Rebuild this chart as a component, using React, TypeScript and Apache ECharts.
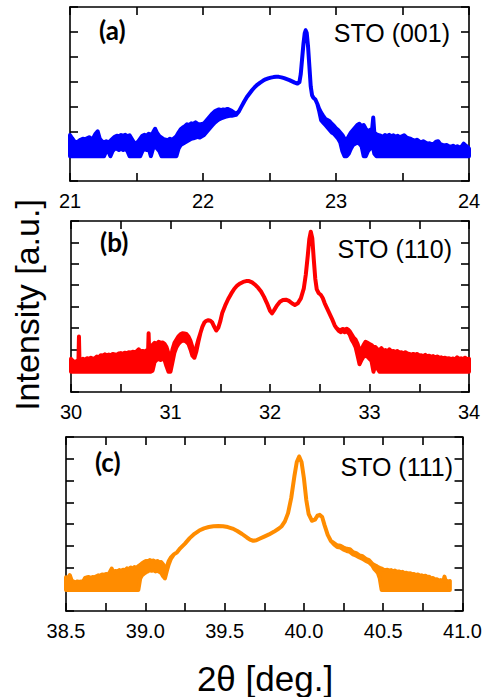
import React, { useEffect, useRef } from "react";
import * as echarts from "echarts";

// ---- data: [2θ (deg), upper envelope, lower envelope] of the measured scans ----
// (upper == lower where the curve is a single smooth trace; they differ in the noisy band)
const scanA: [number, number, number][] = [
[21.000,1.85,1.0],[21.016,1.72,1.0],[21.032,1.6,1.0],[21.048,1.56,1.0],[21.064,1.6,1.0],[21.080,1.66,1.0],[21.096,1.7,1.0],[21.112,1.68,1.0],[21.128,1.72,1.0],[21.144,1.76,1.0],[21.160,1.7,1.0],[21.176,1.74,1.0],[21.192,1.9,1.0],[21.208,2.0,1.0],[21.224,1.7,1.0],[21.240,1.6,1.0],[21.256,1.56,1.0],[21.272,1.6,1.2],[21.288,1.55,1.2],[21.304,1.62,1.0],[21.320,1.7,1.2],[21.336,1.78,1.3],[21.352,1.82,1.3],[21.368,1.8,1.25],[21.384,1.85,1.3],[21.400,1.82,1.25],[21.416,1.86,1.3],[21.432,1.8,1.2],[21.448,1.84,1.0],[21.464,1.7,1.0],[21.480,1.56,1.0],[21.496,1.52,1.0],[21.512,1.58,1.0],[21.528,1.7,1.0],[21.544,1.82,1.2],[21.560,1.86,1.3],[21.576,1.82,1.25],[21.592,1.9,1.3],[21.608,1.86,1.0],[21.624,1.95,1.3],[21.640,2.1,1.4],[21.656,1.92,1.3],[21.672,1.8,1.2],[21.688,1.74,1.0],[21.704,1.68,1.0],[21.720,1.66,1.0],[21.736,1.64,1.0],[21.752,1.7,1.0],[21.768,1.66,1.0],[21.784,1.72,1.0],[21.800,1.8,1.0],[21.816,1.95,1.3],[21.832,2.08,1.45],[21.848,2.15,1.5],[21.864,2.2,1.55],[21.880,2.28,1.6],[21.896,2.25,1.65],[21.912,2.32,1.7],[21.928,2.3,1.72],[21.944,2.36,1.75],[21.960,2.3,1.78],[21.976,2.28,1.75],[21.992,2.3,1.8],[22.008,2.32,1.85],[22.024,2.42,1.95],[22.040,2.52,2.05],[22.056,2.62,2.15],[22.072,2.72,2.25],[22.088,2.8,2.35],[22.104,2.84,2.42],[22.120,2.88,2.48],[22.136,2.85,2.52],[22.152,2.88,2.55],[22.168,2.86,2.58],[22.184,2.9,2.6],[22.200,2.86,2.62],[22.216,2.82,2.62],[22.232,2.76,2.64],[22.248,2.7,2.66],
[22.27,2.8,2.8],[22.29,3.0,3.0],[22.31,3.2,3.2],[22.33,3.38,3.38],[22.35,3.52,3.52],[22.37,3.66,3.66],[22.39,3.78,3.78],[22.41,3.88,3.88],[22.43,3.96,3.96],[22.45,4.03,4.03],[22.47,4.09,4.09],[22.49,4.13,4.13],[22.51,4.16,4.16],[22.53,4.18,4.18],[22.55,4.19,4.19],[22.57,4.19,4.19],[22.59,4.17,4.17],[22.61,4.14,4.14],[22.63,4.1,4.1],[22.65,4.06,4.06],[22.67,4.01,4.01],[22.69,3.96,3.96],[22.71,3.92,3.92],[22.725,3.98,3.98],[22.735,4.3,4.3],[22.745,4.9,4.9],[22.755,5.5,5.5],[22.765,5.95,5.95],[22.772,6.06,6.06],[22.78,5.95,5.95],[22.79,5.4,5.4],[22.8,4.6,4.6],[22.81,3.8,3.8],[22.82,3.45,3.45],[22.83,3.35,3.35],[22.845,3.28,3.28],[22.86,3.1,3.1],[22.872,2.92,2.85],
[22.888,2.75,2.45],[22.904,2.62,2.35],[22.920,2.5,2.25],[22.936,2.45,2.15],[22.952,2.4,2.05],[22.968,2.3,1.95],[22.984,2.22,1.9],[23.000,2.12,1.8],[23.016,2.05,1.7],[23.032,1.95,1.55],[23.048,1.85,1.2],[23.064,1.7,1.0],[23.080,1.65,1.0],[23.096,1.8,1.1],[23.112,1.95,1.3],[23.128,2.05,1.45],[23.144,2.15,1.5],[23.160,2.25,1.55],[23.176,2.3,1.5],[23.192,2.2,1.4],[23.208,2.25,1.0],[23.224,2.1,1.0],[23.240,2.0,1.2],[23.256,2.05,1.3],[23.272,2.1,1.35],[23.280,2.55,1.3],[23.288,1.95,1.1],[23.304,1.88,1.0],[23.320,1.85,1.0],[23.336,1.82,1.0],[23.352,1.78,1.0],[23.368,1.85,1.0],[23.384,1.8,1.0],[23.400,1.86,1.0],[23.416,1.8,1.0],[23.432,1.84,1.0],[23.448,1.78,1.0],[23.464,1.82,1.0],[23.480,1.74,1.0],[23.496,1.8,1.0],[23.512,1.84,1.0],[23.528,1.76,1.0],[23.544,1.72,1.0],[23.560,1.7,1.0],[23.576,1.65,1.0],[23.592,1.62,1.0],[23.608,1.66,1.0],[23.624,1.6,1.0],[23.640,1.56,1.0],[23.656,1.6,1.0],[23.672,1.55,1.0],[23.688,1.5,1.0],[23.704,1.52,1.0],[23.720,1.48,1.0],[23.736,1.5,1.0],[23.752,1.58,1.0],[23.768,1.6,1.0],[23.784,1.48,1.0],[23.800,1.45,1.0],[23.816,1.42,1.0],[23.832,1.45,1.0],[23.848,1.4,1.0],[23.864,1.38,1.0],[23.880,1.42,1.0],[23.896,1.36,1.0],[23.912,1.4,1.0],[23.928,1.35,1.0],[23.944,1.38,1.0],[23.960,1.5,1.0],[23.976,1.42,1.0],[23.992,1.36,1.0],[24.000,1.3,1.0]
];

const scanB: [number, number, number][] = [
[30.00,1.55,0.95],[30.02,1.45,0.95],[30.04,1.4,0.95],[30.06,1.45,0.95],[30.075,1.5,0.95],[30.08,2.6,0.95],[30.085,1.5,0.95],[30.10,1.5,0.95],[30.12,1.55,0.95],[30.14,1.5,0.95],[30.16,1.58,0.95],[30.18,1.55,0.95],[30.20,1.6,0.95],[30.22,1.55,0.95],[30.24,1.58,0.95],[30.26,1.66,0.95],[30.28,1.62,0.95],[30.30,1.72,0.95],[30.32,1.7,0.95],[30.34,1.76,0.95],[30.36,1.72,0.95],[30.38,1.75,0.95],[30.40,1.72,0.95],[30.42,1.78,0.95],[30.44,1.76,0.95],[30.46,1.74,0.95],[30.48,1.8,0.95],[30.50,1.82,0.95],[30.52,1.78,0.95],[30.54,1.84,0.95],[30.56,1.82,0.95],[30.58,1.86,0.95],[30.60,1.84,0.95],[30.62,1.88,0.95],[30.64,1.86,0.95],[30.66,1.9,0.95],[30.68,2.0,0.95],[30.70,1.88,0.95],[30.72,1.92,0.95],[30.74,1.88,0.95],[30.76,1.95,0.95],[30.775,1.95,0.95],[30.78,2.75,0.95],[30.785,2.0,0.95],[30.80,2.1,0.95],[30.82,2.2,1.0],[30.84,2.3,1.4],[30.86,2.25,1.5],[30.88,2.35,1.55],[30.90,2.3,1.5],[30.92,2.32,1.55],[30.94,2.25,1.5],[30.96,2.1,1.2],[30.98,1.8,0.95],[31.00,1.5,0.95],[31.02,2.0,1.4],[31.04,2.3,1.85],[31.06,2.45,2.1],[31.08,2.6,2.25],[31.10,2.7,2.35],[31.12,2.75,2.4],[31.14,2.74,2.4],[31.16,2.72,2.35],[31.18,2.6,2.25],[31.20,2.4,2.0],[31.22,2.1,1.7],[31.24,1.9,1.6],[31.26,2.1,1.9],[31.28,2.45,2.35],
[31.3,2.75,2.75],[31.32,3.05,3.05],[31.34,3.25,3.25],[31.36,3.33,3.33],[31.38,3.36,3.36],[31.4,3.34,3.34],[31.42,3.25,3.25],[31.44,3.05,3.05],[31.46,2.88,2.88],[31.48,3.0,3.0],[31.5,3.3,3.3],[31.52,3.7,3.7],[31.55,4.05,4.05],[31.58,4.35,4.35],[31.61,4.6,4.6],[31.64,4.82,4.82],[31.67,4.98,4.98],[31.7,5.08,5.08],[31.73,5.15,5.15],[31.76,5.19,5.19],[31.79,5.19,5.19],[31.82,5.13,5.13],[31.85,5.02,5.02],[31.88,4.88,4.88],[31.91,4.7,4.7],[31.94,4.45,4.45],[31.97,4.15,4.15],[32.0,3.8,3.8],[32.02,3.68,3.68],[32.04,3.82,3.82],[32.07,4.05,4.05],[32.1,4.22,4.22],[32.13,4.3,4.3],[32.16,4.32,4.32],[32.19,4.26,4.26],[32.22,4.15,4.15],[32.25,4.07,4.07],[32.28,4.15,4.15],[32.31,4.38,4.38],[32.34,4.85,4.85],[32.36,5.5,5.5],[32.38,6.4,6.4],[32.395,7.15,7.15],[32.41,7.5,7.5],[32.425,7.2,7.2],[32.44,6.2,6.2],[32.455,5.3,5.3],[32.47,4.8,4.8],[32.49,4.62,4.62],[32.51,4.55,4.55],[32.53,4.4,4.4],[32.55,4.15,4.15],[32.57,3.95,3.95],[32.59,3.75,3.75],[32.61,3.55,3.55],[32.63,3.35,3.35],[32.65,3.12,3.12],[32.67,2.98,2.98],[32.69,2.92,2.86],[32.71,2.9,2.8],[32.73,2.95,2.85],[32.75,2.92,2.8],[32.77,2.96,2.85],[32.79,2.9,2.75],
[32.80,2.85,2.7],[32.82,2.7,2.45],[32.84,2.55,2.3],[32.86,2.45,2.1],[32.88,2.25,1.7],[32.90,1.95,1.3],[32.92,2.0,1.5],[32.94,2.2,1.65],[32.96,2.35,1.7],[32.98,2.3,1.65],[33.00,2.25,1.55],[33.02,2.2,1.45],[33.04,2.1,0.95],[33.06,2.1,1.3],[33.08,2.0,1.1],[33.10,1.95,0.95],[33.12,2.05,0.95],[33.14,1.92,0.95],[33.16,1.96,0.95],[33.18,1.88,0.95],[33.20,2.0,0.95],[33.22,1.9,0.95],[33.24,1.92,0.95],[33.26,1.86,0.95],[33.28,1.92,0.95],[33.30,1.84,0.95],[33.32,1.86,0.95],[33.34,1.8,0.95],[33.36,1.86,0.95],[33.38,1.8,0.95],[33.40,1.78,0.95],[33.42,1.74,0.95],[33.44,1.78,0.95],[33.46,1.74,0.95],[33.48,1.78,0.95],[33.50,1.7,0.95],[33.52,1.72,0.95],[33.54,1.68,0.95],[33.56,1.74,0.95],[33.58,1.67,0.95],[33.60,1.7,0.95],[33.62,1.64,0.95],[33.64,1.68,0.95],[33.66,1.62,0.95],[33.68,1.66,0.95],[33.70,1.6,0.95],[33.72,1.62,0.95],[33.74,1.58,0.95],[33.76,1.6,0.95],[33.78,1.56,0.95],[33.80,1.58,0.95],[33.82,1.54,0.95],[33.84,1.57,0.95],[33.86,1.52,0.95],[33.88,1.62,0.95],[33.90,1.54,0.95],[33.92,1.58,0.95],[33.94,1.54,0.95],[33.96,1.6,0.95],[33.98,1.54,0.95],[34.00,1.56,0.95]
];

const scanC: [number, number, number][] = [
[38.500,1.55,0.97],[38.512,1.5,0.97],[38.524,1.65,0.97],[38.536,1.4,0.97],[38.548,1.35,0.97],[38.560,1.32,0.97],[38.572,1.36,0.97],[38.584,1.34,0.97],[38.596,1.36,0.97],[38.608,1.35,0.97],[38.620,1.52,0.97],[38.632,1.55,0.97],[38.644,1.56,0.97],[38.656,1.52,0.97],[38.668,1.56,0.97],[38.680,1.55,0.97],[38.692,1.6,0.97],[38.704,1.64,0.97],[38.716,1.62,0.97],[38.728,1.68,0.97],[38.740,1.66,0.97],[38.752,1.7,0.97],[38.764,1.68,0.97],[38.776,1.78,0.97],[38.788,1.95,0.97],[38.800,1.78,0.97],[38.812,1.84,0.97],[38.824,1.82,0.97],[38.836,1.88,0.97],[38.848,1.84,0.97],[38.860,1.9,0.97],[38.872,1.88,0.97],[38.884,1.96,0.97],[38.896,1.92,0.97],[38.908,2.0,0.97],[38.920,1.94,0.97],[38.932,2.02,0.97],[38.944,1.98,0.97],[38.956,2.06,0.97],[38.968,2.12,1.5],[38.980,2.2,1.65],[38.992,2.25,1.72],[39.004,2.3,1.78],[39.016,2.28,1.82],[39.028,2.34,1.88],[39.040,2.3,1.85],[39.052,2.32,1.88],[39.064,2.26,1.82],[39.076,2.3,1.85],[39.088,2.24,1.8],[39.100,2.25,1.75],[39.112,2.15,1.6],[39.124,1.95,1.5],[39.136,2.05,1.85],[39.148,2.3,2.15],[39.160,2.45,2.38],
[39.18,2.6,2.6],[39.2,2.7,2.7],[39.22,2.88,2.88],[39.25,3.1,3.1],[39.28,3.35,3.35],[39.31,3.55,3.55],[39.34,3.7,3.7],[39.37,3.8,3.8],[39.4,3.86,3.86],[39.43,3.9,3.9],[39.46,3.91,3.91],[39.49,3.9,3.9],[39.52,3.86,3.86],[39.55,3.79,3.79],[39.58,3.68,3.68],[39.61,3.54,3.54],[39.64,3.38,3.38],[39.66,3.28,3.28],[39.68,3.23,3.23],[39.7,3.25,3.25],[39.72,3.32,3.32],[39.75,3.42,3.42],[39.78,3.52,3.52],[39.81,3.64,3.64],[39.84,3.78,3.78],[39.86,3.9,3.9],[39.88,4.12,4.12],[39.9,4.5,4.5],[39.92,5.2,5.2],[39.94,6.2,6.2],[39.955,6.85,6.85],[39.97,7.1,7.1],[39.985,6.85,6.85],[40.0,6.1,6.1],[40.015,5.1,5.1],[40.03,4.45,4.45],[40.05,4.15,4.15],[40.07,4.2,4.2],[40.085,4.38,4.38],[40.1,4.42,4.42],[40.115,4.32,4.32],[40.13,3.95,3.95],[40.15,3.5,3.5],[40.17,3.22,3.22],[40.19,3.12,3.06],[40.21,3.02,2.94],[40.23,3.0,2.92],[40.25,2.92,2.82],[40.27,2.86,2.76],[40.29,2.84,2.72],[40.31,2.7,2.6],[40.33,2.66,2.54],[40.35,2.56,2.46],[40.37,2.52,2.4],[40.39,2.4,2.3],[40.41,2.34,2.24],
[40.430,2.18,2.1],[40.442,2.12,1.95],[40.454,2.08,1.85],[40.466,2.02,1.75],[40.478,1.98,1.5],[40.490,1.95,0.97],[40.502,1.9,0.97],[40.514,1.88,0.97],[40.526,1.9,0.97],[40.538,1.85,0.97],[40.550,1.88,0.97],[40.562,1.82,0.97],[40.574,1.86,0.97],[40.586,1.8,0.97],[40.598,1.82,0.97],[40.610,1.78,0.97],[40.622,1.8,0.97],[40.634,1.74,0.97],[40.646,1.76,0.97],[40.658,1.72,0.97],[40.670,1.74,0.97],[40.682,1.68,0.97],[40.694,1.7,0.97],[40.706,1.65,0.97],[40.718,1.68,0.97],[40.730,1.62,0.97],[40.742,1.64,0.97],[40.754,1.6,0.97],[40.766,1.62,0.97],[40.778,1.56,0.97],[40.790,1.58,0.97],[40.802,1.5,0.97],[40.814,1.52,0.97],[40.826,1.45,0.97],[40.838,1.46,0.97],[40.850,1.4,0.97],[40.862,1.42,0.97],[40.874,1.38,0.97],[40.880,1.4,0.97],[40.886,1.58,0.97],[40.892,1.42,0.97],[40.898,1.4,0.97],[40.910,1.34,0.97],[40.920,1.38,0.97]
];

// axis ranges [min, max, tick interval]
const xAxisA = [21, 24, 0.5];
const xAxisB = [30, 34, 0.5];
const xAxisC = [38.5, 41, 0.25];
const yAxisA = [0, 7, 1];
const yAxisB = [0, 8, 1];
const yAxisC = [0, 8, 1];

const panelLabels = ["(a)", "(b)", "(c)"];
const panelNames = ["STO (001)", "STO (110)", "STO (111)"];
const lineColors = ["#0000ff", "#ff0000", "#ff8c00"];
const yTitle = "Intensity [a.u.]";
const xTitle = "2θ [deg.]";

const FONT = "'Liberation Sans', Arial, sans-serif";

export default function App() {
  const ref = useRef<HTMLDivElement>(null);
  useEffect(() => {
    if (!ref.current) return;
    const chart = echarts.init(ref.current, null, { renderer: "svg" });

    const grids = [
      { left: 70, top: 7, width: 399, height: 174 },
      { left: 71, top: 221, width: 398, height: 171 },
      { left: 66, top: 437, width: 398, height: 174 },
    ];
    const xs = [xAxisA, xAxisB, xAxisC];
    const ys = [yAxisA, yAxisB, yAxisC];
    const scans = [scanA, scanB, scanC];

    const axisLine = { show: true, onZero: false, lineStyle: { color: "#000", width: 1.6 } };
    const tick = { show: true, inside: true, length: 8, lineStyle: { color: "#000", width: 1.6 } };

    const xAxis: any[] = [];
    const yAxis: any[] = [];
    const series: any[] = [];
    grids.forEach((g, i) => {
      const [xmin, xmax, xint] = xs[i];
      const [ymin, ymax, yint] = ys[i];
      const fmt = (v: number) => {
        if (i === 2) {
          return Math.abs(v * 2 - Math.round(v * 2)) < 1e-6 ? v.toFixed(1) : "";
        }
        return Math.abs(v - Math.round(v)) < 1e-6 ? String(Math.round(v)) : "";
      };
      xAxis.push({
        type: "value", gridIndex: i, position: "bottom", min: xmin, max: xmax, interval: xint,
        axisLine, axisTick: tick, splitLine: { show: false },
        axisLabel: { show: true, formatter: fmt, color: "#000", fontSize: 20, fontFamily: FONT, margin: 10, showMinLabel: true, showMaxLabel: true },
      });
      xAxis.push({
        type: "value", gridIndex: i, position: "top", min: xmin, max: xmax, interval: xint,
        axisLine, axisTick: tick, splitLine: { show: false }, axisLabel: { show: false },
      });
      yAxis.push({
        type: "value", gridIndex: i, position: "left", min: ymin, max: ymax, interval: yint,
        axisLine, axisTick: tick, splitLine: { show: false }, axisLabel: { show: false },
      });
      yAxis.push({
        type: "value", gridIndex: i, position: "right", min: ymin, max: ymax, interval: yint,
        axisLine, axisTick: tick, splitLine: { show: false }, axisLabel: { show: false },
      });
      const scan = scans[i];
      const color = lineColors[i];
      // the scan is drawn as a band between its upper and lower envelopes
      series.push({
        type: "custom", xAxisIndex: i * 2, yAxisIndex: i * 2,
        coordinateSystem: "cartesian2d",
        data: [[scan[0][0], scan[0][1]]],
        z: 1,
        renderItem: (params: any, api: any) => {
          const upper = scan.map(([x, hi]) => api.coord([x, hi]));
          const lower = scan.slice().reverse().map(([x, , lo]) => api.coord([x, lo]));
          return {
            type: "polygon",
            shape: { points: upper.concat(lower) },
            style: { fill: color, stroke: color, lineWidth: 4, lineJoin: "round" },
          };
        },
      });
    });

    const labelY = [33, 245, 465];
    const labelX = [99, 100, 95];
    const nameY = [33, 249, 467];
    const nameRight = [450, 452, 453];
    const graphic: any[] = [];
    for (let i = 0; i < 3; i++) {
      graphic.push({
        type: "text", left: labelX[i], top: labelY[i] - 16, z: 10,
        style: { text: panelLabels[i], fill: "#000", font: "bold 26px Lato, 'Open Sans', sans-serif" },
      });
      graphic.push({
        type: "text", x: nameRight[i], y: nameY[i], z: 10,
        style: { text: panelNames[i], fill: "#000", font: `25px ${FONT}`, align: "right", verticalAlign: "middle" },
      });
    }
    graphic.push({
      type: "text", x: 27, y: 305, rotation: Math.PI / 2,
      style: { text: yTitle, fill: "#000", font: `34px ${FONT}`, align: "center", verticalAlign: "middle" },
    });
    graphic.push({
      type: "text", x: 265, y: 678,
      style: { text: xTitle, fill: "#000", font: `35px ${FONT}`, align: "center", verticalAlign: "middle" },
    });

    chart.setOption({
      animation: false,
      backgroundColor: "#fff",
      grid: grids.map((g) => ({ ...g, containLabel: false })),
      xAxis,
      yAxis,
      series,
      graphic,
    });
    return () => chart.dispose();
  }, []);
  return <div ref={ref} style={{ position: "absolute", left: 0, top: 0, width: 485, height: 697 }} />;
}
